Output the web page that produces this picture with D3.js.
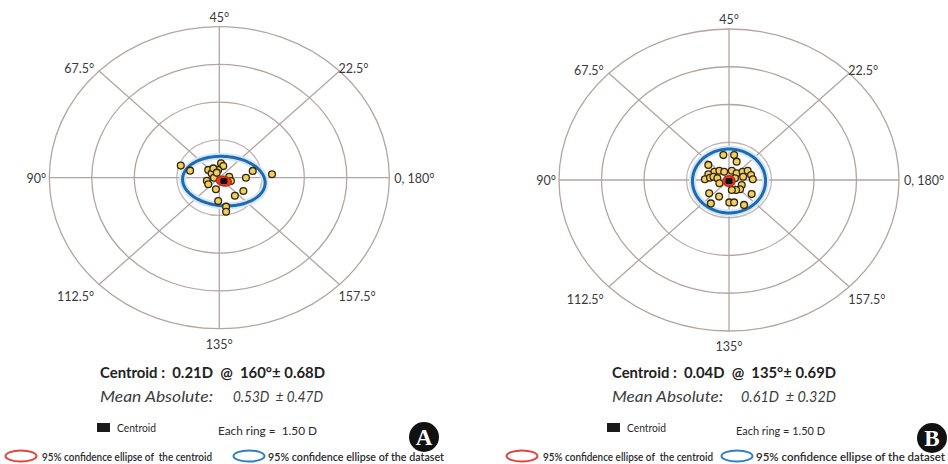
<!DOCTYPE html>
<html>
<head>
<meta charset="utf-8">
<script src="https://cdn.jsdelivr.net/npm/d3@7"></script>
<style>
  html, body { margin: 0; padding: 0; background: #ffffff; }
  svg { display: block; font-family: Lato, "Open Sans", "DejaVu Sans", sans-serif; }
</style>
</head>
<body>
<svg id="chart" width="948" height="464"></svg>
<script>
// ---- Axis definitions of the double-angle plot (axis in degrees, ring values in D) ----
const axisValues = [0, 22.5, 45, 67.5, 90, 112.5, 135, 157.5];
const axisLabels = ["0, 180°", "22.5°", "45°", "67.5°", "90°", "112.5°", "135°", "157.5°"];
const ringValues = [1.5, 3.0, 4.5, 6.0];
const ringLabel = "1.50 D";

// ---- Panel A: individual eyes as double-angle vector components (D) ----
const aPointX = [-1.36, -1.03, -0.39, -0.27, 0.06, 0.14, -0.04, -0.19, -0.44, -0.39, -0.12, 0.35,
                 0.41, 0.94, 1.18, 1.86, 0.85, 0.55, -0.04, 0.24, 0.24, -0.21, -0.09];
const aPointY = [0.48, 0.28, 0.31, 0.17, 0.57, 0.46, 0.31, 0.00, -0.12, -0.26, -0.46, 0.04,
                 -0.13, 0.00, 0.27, 0.14, -0.53, -0.72, -0.93, -1.15, -1.35, 0.37, 0.20];
// centroid: magnitude (D), axis (deg), SD (D); mean absolute: mean, SD (D)
const aCentroid = [0.21, 160, 0.68];
const aMeanAbs = [0.53, 0.47];
// confidence ellipses: semi-axis 1 (D), semi-axis 2 (D), tilt (deg)
const aCentroidEllipse = [0.27, 0.19, -15];
const aDataEllipse = [1.46, 0.98, -5];

// ---- Panel B ----
const bPointX = [-0.20, 0.18, 0.27, -0.73, -0.52, -0.34, -0.73, -0.85, -0.67, -0.55, -0.41, -0.34,
                 -0.17, 0.10, 0.27, 0.48, 0.66, 0.78, 0.84, 0.50, 0.21, 0.45, 0.39, 0.25,
                 0.10, -0.70, -0.35, 0.80, 0.01, 0.18, -0.64, 0.53];
const bPointY = [0.99, 0.99, 0.73, 0.60, 0.33, 0.37, 0.23, 0.03, 0.09, 0.13, 0.07, -0.13,
                 0.33, 0.37, 0.27, 0.33, 0.37, 0.20, 0.03, 0.13, 0.07, -0.20, -0.37, -0.40,
                 -0.40, -0.53, -0.66, -0.56, -0.89, -0.89, -0.93, -0.99];
const bCentroid = [0.04, 135, 0.69];
const bMeanAbs = [0.61, 0.32];
const bCentroidEllipse = [0.21, 0.21, 0];
const bDataEllipse = [1.29, 1.27, 0];

const panelLetters = ["A", "B"];

// ---------------------------------------------------------------------------------------
const svg = d3.select("#chart");
svg.append("rect").attr("width", 948).attr("height", 464).attr("fill", "#ffffff");

const gridColor = "#b3a5a1";
const rMax = d3.max(ringValues);

function drawPanel(cfg) {
  const g = svg.append("g");
  const x = d3.scaleLinear().domain([-rMax, rMax]).range([cfg.cx - 170, cfg.cx + 170]);
  const y = d3.scaleLinear().domain([-rMax, rMax]).range([cfg.cy + 151, cfg.cy - 151]);
  const polar = (r, axisDeg) => {
    const phi = axisDeg * 2 * Math.PI / 180;
    return [x(r * Math.cos(phi)), y(r * Math.sin(phi))];
  };

  // rings
  g.selectAll("ellipse.ring").data(ringValues).join("ellipse")
    .attr("class", "ring")
    .attr("cx", x(0)).attr("cy", y(0))
    .attr("rx", d => x(d) - x(0)).attr("ry", d => y(0) - y(d))
    .attr("fill", "none")
    .attr("stroke", (d, i) => i === 0 ? "#c2b8b6" : gridColor)
    .attr("stroke-width", 1.3);

  // spokes: one per labelled axis direction
  g.selectAll("line.spoke").data(axisValues).join("line")
    .attr("class", "spoke")
    .attr("x1", x(0)).attr("y1", y(0))
    .attr("x2", d => polar(rMax, d)[0]).attr("y2", d => polar(rMax, d)[1])
    .attr("stroke", gridColor).attr("stroke-width", 1.3);

  // axis labels
  g.selectAll("text.axis").data(axisValues).join("text")
    .attr("class", "axis")
    .each(function (d, i) {
      const phi = d * 2 * Math.PI / 180;
      const c = Math.cos(phi), s = Math.sin(phi);
      const [px, py] = polar(rMax, d);
      let anchor = "middle", dx = 0, dy = 5;
      if (c > 0.1) { anchor = "start"; dx = Math.abs(s) < 0.1 ? 5 : -1; }
      else if (c < -0.1) { anchor = "end"; dx = Math.abs(s) < 0.1 ? -3 : -5; }
      if (s > 0.9) dy = -5;
      else if (s > 0.1) dy = 2;
      else if (s < -0.9) dy = 20;
      else if (s < -0.1) dy = 17;
      d3.select(this)
        .attr("x", px + dx).attr("y", py + dy)
        .attr("text-anchor", anchor)
        .attr("font-size", 12.5).attr("fill", "#3a3a3a")
        .text(axisLabels[i]);
    });

  const ellipsePath = (center, e) => {
    const [a, b, tiltDeg] = e;
    const tau = tiltDeg * Math.PI / 180;
    const pts = d3.range(0, 360, 3).map(t => {
      const tr = t * Math.PI / 180;
      const ex = a * Math.cos(tr), ey = b * Math.sin(tr);
      return [center[0] + ex * Math.cos(tau) - ey * Math.sin(tau),
              center[1] + ex * Math.sin(tau) + ey * Math.cos(tau)];
    });
    return d3.line().x(p => x(p[0])).y(p => y(p[1])).curve(d3.curveCardinalClosed)(pts);
  };

  // centroid as a double-angle vector
  const phiC = cfg.centroid[1] * 2 * Math.PI / 180;
  const cen = [cfg.centroid[0] * Math.cos(phiC), cfg.centroid[0] * Math.sin(phiC)];

  // dataset ellipse (with soft halo)
  g.append("path").attr("d", ellipsePath(cen, cfg.dataEllipse))
    .attr("fill", "none").attr("stroke", "#d6e6f2").attr("stroke-width", 7);
  g.append("path").attr("d", ellipsePath(cen, cfg.dataEllipse))
    .attr("fill", "none").attr("stroke", "#1d6cb3").attr("stroke-width", 3);

  // individual points
  g.selectAll("circle.pt").data(cfg.px.map((v, i) => [v, cfg.py[i]])).join("circle")
    .attr("class", "pt")
    .attr("cx", d => x(d[0])).attr("cy", d => y(d[1]))
    .attr("r", 3.4)
    .attr("fill", "#efcf62").attr("stroke", "#33250e").attr("stroke-width", 1.3);

  // centroid confidence ellipse and centroid marker
  g.append("path").attr("d", ellipsePath(cen, cfg.centroidEllipse))
    .attr("fill", "#e23b28").attr("stroke", "#c22a1a").attr("stroke-width", 1.5);
  g.append("rect")
    .attr("x", x(cen[0]) - 3.5).attr("y", y(cen[1]) - 3)
    .attr("width", 7).attr("height", 6).attr("rx", 1.5)
    .attr("fill", "#111");

  // summary text
  const t = cfg.text;
  g.append("text")
    .attr("x", t.x).attr("y", 378)
    .attr("font-size", 16).attr("font-weight", 700).attr("fill", "#222")
    .attr("textLength", t.w1).attr("lengthAdjust", "spacingAndGlyphs")
    .style("white-space", "pre")
    .text(`Centroid :  ${cfg.centroid[0].toFixed(2)}D  @  ${cfg.centroid[1]}°± ${cfg.centroid[2].toFixed(2)}D`);
  g.append("text")
    .attr("x", t.x).attr("y", 402)
    .attr("font-size", 15.5).attr("font-style", "italic").attr("fill", "#3c3c3c")
    .attr("textLength", t.w2).attr("lengthAdjust", "spacingAndGlyphs")
    .text("Mean Absolute:");
  g.append("text")
    .attr("x", t.x3).attr("y", 402)
    .attr("font-size", 15.5).attr("font-style", "italic").attr("fill", "#3c3c3c")
    .attr("textLength", t.w3).attr("lengthAdjust", "spacingAndGlyphs")
    .style("white-space", "pre")
    .text(`${cfg.meanAbs[0].toFixed(2)}D  ± ${cfg.meanAbs[1].toFixed(2)}D`);

  // legend
  const L = cfg.legend;
  g.append("rect").attr("x", L.sqx).attr("y", 423).attr("width", 13).attr("height", 9).attr("fill", "#1a1a1a");
  g.append("text").attr("x", L.sqx + 20).attr("y", 432)
    .attr("font-size", 11).attr("fill", "#2a2a2a")
    .attr("textLength", 39).attr("lengthAdjust", "spacingAndGlyphs")
    .text("Centroid");
  g.append("text").attr("x", L.ringx).attr("y", 435)
    .attr("font-size", 11.5).attr("fill", "#2a2a2a")
    .attr("textLength", L.ringw).attr("lengthAdjust", "spacingAndGlyphs")
    .style("white-space", "pre")
    .text(`Each ring = ${L.ringSpace}${ringLabel}`);

  g.append("ellipse").attr("cx", L.e1x).attr("cy", 456).attr("rx", 15.5).attr("ry", 5.5)
    .attr("fill", "none").attr("stroke", "#e0453c").attr("stroke-width", 2);
  g.append("text").attr("x", L.e1x + 21).attr("y", 461)
    .attr("font-size", 11).attr("font-weight", 600).attr("fill", "#2a2a2a")
    .attr("textLength", 170).attr("lengthAdjust", "spacingAndGlyphs")
    .style("white-space", "pre")
    .text("95% confidence ellipse of  the centroid");
  g.append("ellipse").attr("cx", L.e2x).attr("cy", 456).attr("rx", 15.5).attr("ry", 5.5)
    .attr("fill", "none").attr("stroke", "#2f7fc4").attr("stroke-width", 2);
  g.append("text").attr("x", L.e2x + 19).attr("y", 461)
    .attr("font-size", 11).attr("font-weight", 600).attr("fill", "#2a2a2a")
    .attr("textLength", L.e2w).attr("lengthAdjust", "spacingAndGlyphs")
    .text("95% confidence ellipse of the dataset");

  // panel letter
  g.append("circle").attr("cx", cfg.badge[0]).attr("cy", cfg.badge[1]).attr("r", 15).attr("fill", "#111");
  g.append("text").attr("x", cfg.badge[0]).attr("y", cfg.badge[1] + 8)
    .attr("text-anchor", "middle")
    .style("font-family", "'Liberation Serif', 'DejaVu Serif', serif")
    .attr("font-weight", 700).attr("font-size", 23).attr("fill", "#ffffff")
    .text(cfg.letter);
}

drawPanel({
  cx: 219.3, cy: 177.7,
  px: aPointX, py: aPointY,
  centroid: aCentroid, meanAbs: aMeanAbs,
  centroidEllipse: aCentroidEllipse, dataEllipse: aDataEllipse,
  text: { x: 100, w1: 225, w2: 113, x3: 233, w3: 90 },
  legend: { sqx: 97, ringx: 218, ringw: 99, ringSpace: " ", e1x: 21, e2x: 249, e2w: 176 },
  badge: [424, 437], letter: panelLetters[0]
});

drawPanel({
  cx: 729, cy: 180,
  px: bPointX, py: bPointY,
  centroid: bCentroid, meanAbs: bMeanAbs,
  centroidEllipse: bCentroidEllipse, dataEllipse: bDataEllipse,
  text: { x: 612, w1: 224, w2: 111, x3: 741, w3: 95 },
  legend: { sqx: 607, ringx: 736, ringw: 89, ringSpace: "", e1x: 522, e2x: 737, e2w: 189 },
  badge: [932, 438], letter: panelLetters[1]
});
</script>
</body>
</html>
